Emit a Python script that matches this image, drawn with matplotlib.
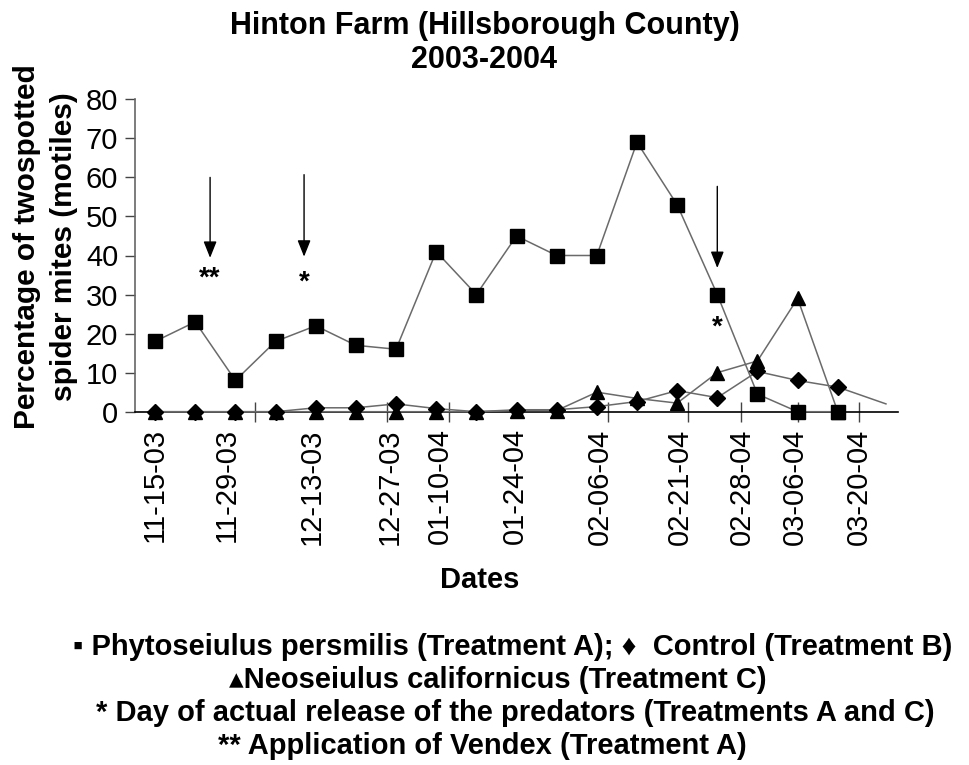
import matplotlib
matplotlib.use("Agg")
import matplotlib.pyplot as plt
import numpy as np

# ---------------- data ----------------
sample_index = list(range(18))
phytoseiulus = [18, 23, 8, 18, 22, 17, 16, 41, 30, 45, 40, 40, 69, 53, 30, 4.5, 0, 0]
control = [0, 0, 0, 0, 1, 1, 2, 0.8, 0, 0.5, 0.5, 1.3, 2.6, 5.4, 3.6, 10.3, 8, 6.3, 2]
control_index = [0, 1, 2, 3, 4, 5, 6, 7, 8, 9, 10, 11, 12, 13, 14, 15, 16, 17, 18.2]
neoseiulus = [0, 0, 0, 0, 0, 0, 0, 0, 0, 0.3, 0.3, 5, 3.4, 2.2, 10, 13, 29, 0]

tick_label_pos = [0, 1.79, 3.9, 5.85, 7.1, 8.97, 11.08, 13.08, 14.61, 15.94, 17.52]
tick_labels = ["11-15-03", "11-29-03", "12-13-03", "12-27-03", "01-10-04", "01-24-04",
               "02-06-04", "02-21-04", "02-28-04", "03-06-04", "03-20-04"]
tick_mark_pos = [2.49, 5.77, 7.31, 11.28, 13.26, 14.60, 16.02, 17.53]

yticks = [0, 10, 20, 30, 40, 50, 60, 70, 80]

# arrows: (x index, y top, y tip, text, text y)
arrows_x = [1.37, 3.71, 14.0]
arrows_top = [60, 60.7, 57.7]
arrows_tip = [39.4, 39.7, 36.8]
arrow_text = ["**", "*", "*"]
arrow_text_y = [34.0, 33.0, 21.5]

title_lines = "Hinton Farm (Hillsborough County)\n2003-2004"
ylabel = "Percentage of twospotted\nspider mites (motiles)"
xlabel = "Dates"
legend_lines = [
    "\u25aa Phytoseiulus persmilis (Treatment A); \u2666  Control (Treatment B)",
    "\u25b4Neoseiulus californicus (Treatment C)",
    "* Day of actual release of the predators (Treatments A and C)",
    "** Application of Vendex (Treatment A)",
]

# ---------------- style ----------------
BOLDF = ["Liberation Sans", "DejaVu Sans"]
REG = ["Liberation Sans", "DejaVu Sans"]
LINEC = "#6a6a6a"

fig = plt.figure(figsize=(9.69, 7.65), dpi=100)
ax = fig.add_axes([135 / 969, 1 - 411.7 / 765, (898 - 135) / 969, (411.7 - 99.3) / 765])

ax.plot(sample_index, neoseiulus, color=LINEC, lw=1.1, marker="^", ms=10,
        mfc="black", mec="black", clip_on=False, zorder=3)
ax.plot(control_index, control, color=LINEC, lw=1.1, marker="D", ms=8,
        mfc="black", mec="black", markevery=list(range(18)), clip_on=False, zorder=4)
ax.plot(sample_index, phytoseiulus, color=LINEC, lw=1.1, marker="s", ms=9.5,
        mfc="black", mec="black", clip_on=False, zorder=5)

for x, top, tip, t, ty in zip(arrows_x, arrows_top, arrows_tip, arrow_text, arrow_text_y):
    ax.annotate("", xy=(x, tip), xytext=(x, top),
                arrowprops=dict(arrowstyle="-|>,head_length=1.0,head_width=0.4",
                                color="black", lw=1.0, shrinkA=0, shrinkB=0))
    ax.text(x, ty, t, ha="center", va="center", fontsize=20, fontweight="bold",
            family=REG)

ax.set_xlim(-0.5, 18.5)
ax.set_ylim(0, 80)

for s in ["top", "right"]:
    ax.spines[s].set_visible(False)
ax.spines["left"].set_color("#666666")
ax.spines["bottom"].set_color("black")
ax.spines["left"].set_linewidth(1.2)
ax.spines["bottom"].set_linewidth(1.2)

ax.set_yticks(yticks)
ax.set_yticklabels([str(v) for v in yticks], family=REG, fontsize=21)
ax.tick_params(axis="y", direction="out", length=7, width=1, color="#444444", pad=5)

ax.set_xticks(tick_label_pos)
ax.set_xticklabels(tick_labels, rotation=90, family=REG, fontsize=21)
ax.tick_params(axis="x", which="major", length=0, pad=12)
ax.set_xticks(tick_mark_pos, minor=True)
ax.tick_params(axis="x", which="minor", direction="inout", length=14, width=1, color="#444444")

fig.text(0.5, 0.985, title_lines, ha="center", va="top", fontsize=22, fontweight="bold",
         family=BOLDF, linespacing=1.15)
fig.text(0.047, 1 - 247 / 765, ylabel, ha="center", va="center", rotation=90, fontsize=21.5,
         fontweight="bold", family=REG, linespacing=1.4)
fig.text(480 / 969, 1 - 580 / 765, xlabel, ha="center", va="center", fontsize=21,
         fontweight="bold", family=BOLDF)

legend_x = [513, 498, 515, 482]
legend_y = [647, 680, 713, 746]
for t, lx, ly in zip(legend_lines, legend_x, legend_y):
    fig.text(lx / 969, 1 - ly / 765, t, ha="center", va="center", fontsize=21,
             fontweight="bold", family=BOLDF)

fig.savefig("out.png", dpi=100, facecolor="white")
